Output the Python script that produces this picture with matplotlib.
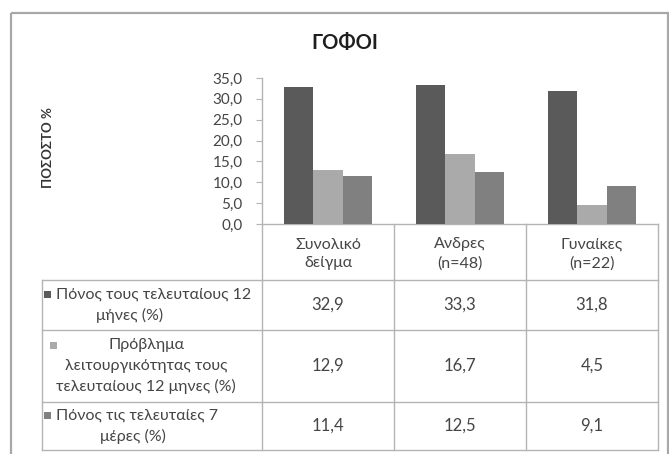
import matplotlib
matplotlib.use("Agg")
import matplotlib.pyplot as plt
from matplotlib.patches import Rectangle
from matplotlib.lines import Line2D

plt.rcParams['font.family'] = ['Lato', 'DejaVu Sans']

# Data
categories = ["Συνολικό\nδείγμα", "Ανδρες\n(n=48)", "Γυναίκες\n(n=22)"]
series_names = [
    "Πόνος τους τελευταίους 12\nμήνες (%)",
    "Πρόβλημα\nλειτουργικότητας τους\nτελευταίους 12 μηνες (%)",
    "Πόνος τις τελευταίες 7\nμέρες (%)",
]
pain_12m = [32.9, 33.3, 31.8]
function_12m = [12.9, 16.7, 4.5]
pain_7d = [11.4, 12.5, 9.1]
series_values = [pain_12m, function_12m, pain_7d]
yticks = [0, 5, 10, 15, 20, 25, 30, 35]

colors = ["#5a5a5a", "#aaaaaa", "#808080"]
text_col = "#454545"
line_col = "#b4b4b4"

W, H = 669, 454
fig = plt.figure(figsize=(W / 100, H / 100), dpi=100)
fig.patch.set_facecolor("white")

def fx(px):
    return px / W

def fy(py):
    return 1 - py / H

# Plot area
left, right, top, bottom = 262, 658, 78, 224
ax = fig.add_axes([fx(left), fy(bottom), fx(right) - fx(left), fy(top) - fy(bottom)])
ax.set_xlim(-0.5, len(categories) - 0.5)
ax.set_ylim(0, 35)
bw = 0.22
for i, vals in enumerate(series_values):
    ax.bar([k + (i - 1) * bw for k in range(len(categories))], vals, width=bw,
           color=colors[i], edgecolor="none", zorder=3)
ax.set_yticks(yticks)
ax.set_yticklabels([f"{t:.1f}".replace(".", ",") for t in yticks],
                   fontsize=11, color=text_col)
ax.tick_params(axis="y", length=4, color=line_col, pad=10)
ax.set_xticks([])
for s in ("top", "right"):
    ax.spines[s].set_visible(False)
for s in ("left", "bottom"):
    ax.spines[s].set_color(line_col)
    ax.spines[s].set_linewidth(1.0)
ax.patch.set_alpha(0)

# Overlay in pixel coordinates for frame and data table
ov = fig.add_axes([0, 0, 1, 1], zorder=-1)
ov.set_xlim(0, W)
ov.set_ylim(H, 0)
ov.axis("off")

ov.add_patch(Rectangle((11, 13), 657, 460, fill=False, edgecolor="#a8a8a8", lw=1.6))

ov.text(345, 43, "ΓΟΦΟΙ", ha="center", va="center", fontsize=14.5,
        fontweight="bold", color="#1e1e1e")
ov.text(48, 148, "ΠΟΣΟΣΤΟ %", ha="center", va="center", rotation=90,
        fontsize=9.5, fontweight="bold", color="#333333")

# Table geometry from the category axis
col_x = [ax.transData.transform((k - 0.5, 0))[0] for k in range(len(categories) + 1)]
table_left = 42
row_y = [280, 330, 402, 450]
header_top = bottom

lk = dict(color=line_col, lw=1.0)
for x in col_x:
    ov.add_line(Line2D([x, x], [header_top, row_y[0]], **lk))
for y in row_y:
    ov.add_line(Line2D([table_left, col_x[-1]], [y, y], **lk))
for x in [table_left] + col_x:
    ov.add_line(Line2D([x, x], [row_y[0], row_y[-1]], **lk))

# header labels
for k, cat in enumerate(categories):
    cx = (col_x[k] + col_x[k + 1]) / 2
    ov.text(cx, 254, cat, ha="center", va="center", fontsize=11.5,
            color=text_col, linespacing=1.45)

# row labels with legend keys, and values
step = 20.5
key_x = [44, 50, 44]
first_left = [True, False, True]
block_cx = [130, 146, 133]
for i, name in enumerate(series_names):
    lines = name.split("\n")
    cy = (row_y[i] + row_y[i + 1]) / 2
    y0 = cy - step * (len(lines) - 1) / 2
    for j, ln in enumerate(lines):
        yy = y0 + j * step
        if j == 0 and first_left[i]:
            ov.text(key_x[i] + 12, yy, ln, ha="left", va="center",
                    fontsize=11.5, color=text_col)
        else:
            ov.text(block_cx[i], yy, ln, ha="center", va="center",
                    fontsize=11.5, color=text_col)
    ov.add_patch(Rectangle((key_x[i], y0 - 3.5), 7, 7, color=colors[i], lw=0))
    for k, v in enumerate(series_values[i]):
        cx = (col_x[k] + col_x[k + 1]) / 2
        ov.text(cx, cy, f"{v:.1f}".replace(".", ","), ha="center", va="center",
                fontsize=12, color=text_col)

fig.savefig("out.png", dpi=100)
